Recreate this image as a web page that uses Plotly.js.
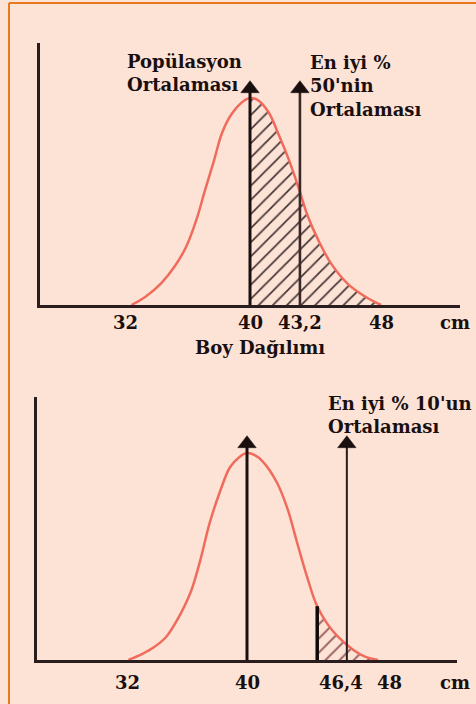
<!DOCTYPE html>
<html>
<head>
<meta charset="utf-8">
<script src="https://cdn.plot.ly/plotly-3.0.1.min.js"></script>
<style>
  html, body { margin: 0; padding: 0; background: #fde3d6; }
  #chart { width: 476px; height: 704px; }
</style>
</head>
<body>
<div id="chart"></div>
<script>
// Height distribution (Boy Dağılımı), relative frequency, peak = 1
const upperX = [32.4, 33.3, 34.3, 35.2, 35.9, 36.6, 37.1, 37.7, 38.2, 38.8, 39.5, 40.0, 40.5, 41.2, 41.8, 42.5, 43.1, 43.7, 44.4, 45.2, 46.3, 47.4, 48.4];
const upperY = [0, 0.04, 0.105, 0.19, 0.28, 0.42, 0.55, 0.70, 0.83, 0.92, 0.98, 1.00, 0.99, 0.93, 0.83, 0.70, 0.57, 0.43, 0.31, 0.20, 0.10, 0.04, 0];

const lowerX = [32.4, 33.3, 34.0, 34.8, 35.5, 36.4, 37.0, 37.6, 38.3, 38.9, 39.5, 40.0, 40.5, 41.0, 41.9, 42.6, 43.2, 43.9, 44.5, 45.5, 46.8, 47.6, 48.4];
const lowerY = [0, 0.03, 0.06, 0.11, 0.19, 0.33, 0.48, 0.66, 0.82, 0.93, 0.98, 1.00, 0.99, 0.96, 0.86, 0.73, 0.57, 0.39, 0.26, 0.14, 0.05, 0.015, 0];

// Means (cm)
const populationMean = 40;
const top50Mean = 43.2;
const top10Mean = 46.4;
const top10Cutoff = 44.5;

// Axis ticks
const upperTickVals = [32, 40, 43.2, 48];
const upperTickText = ['32', '40', '43,2', '48'];
const lowerTickVals = [32, 40, 46.4, 48];
const lowerTickText = ['32', '40', '46,4', '48'];

// Labels
const popLabel = 'Popülasyon<br>Ortalaması';
const top50Label = "En iyi %<br>50'nin<br>Ortalaması";
const top10Label = "En iyi % 10'un<br>Ortalaması";
const axisTitle = 'Boy Dağılımı';
const unitLabel = 'cm';

// ---- styling ----
const INK = '#1a0f0f';
const CURVE = '#f06b5c';
const FONT = 'DejaVu Serif';
const ARROW_TOP = 1.045;     // line end, just under the arrow head

function tail(xs, ys, from) {
  const px = [], py = [];
  xs.forEach((x, i) => { if (x >= from) { px.push(x); py.push(ys[i]); } });
  return { x: px, y: py };
}
function valueAt(xs, ys, at) {
  return ys[xs.indexOf(at)];
}

const upperHatch = tail(upperX, upperY, populationMean);
const lowerHatch = tail(lowerX, lowerY, top10Cutoff);

function arrow(x, xa, ya, width, color) {
  return {
    x: [x, x], y: [0, ARROW_TOP], xaxis: xa, yaxis: ya,
    mode: 'lines+markers', hoverinfo: 'skip', showlegend: false,
    line: { color: color, width: width },
    marker: { symbol: 'triangle-up', size: [0, 16], color: INK, opacity: 1, line: { width: 0.5, color: INK } }
  };
}

const curveLine = { color: CURVE, width: 2.5, shape: 'spline', smoothing: 1 };

const traces = [
  // upper panel
  {
    x: upperHatch.x, y: upperHatch.y, xaxis: 'x', yaxis: 'y',
    mode: 'lines', line: { width: 0, shape: 'spline', smoothing: 1 }, fill: 'tozeroy',
    fillcolor: 'rgba(0,0,0,0)',
    fillpattern: { shape: '/', fgcolor: '#4a3838', bgcolor: 'rgba(0,0,0,0)', size: 10, solidity: 0.18 },
    hoverinfo: 'skip', showlegend: false
  },
  {
    x: upperX, y: upperY, xaxis: 'x', yaxis: 'y', mode: 'lines',
    line: curveLine, hoverinfo: 'skip', showlegend: false
  },
  arrow(populationMean, 'x', 'y', 3, '#1a0f0f'),
  arrow(top50Mean, 'x', 'y', 2.6, '#3a2727'),

  // lower panel
  {
    x: lowerHatch.x, y: lowerHatch.y, xaxis: 'x2', yaxis: 'y2',
    mode: 'lines', line: { width: 0, shape: 'spline', smoothing: 1 }, fill: 'tozeroy',
    fillcolor: 'rgba(0,0,0,0)',
    fillpattern: { shape: '/', fgcolor: '#9a6464', bgcolor: 'rgba(0,0,0,0)', size: 10, solidity: 0.2 },
    hoverinfo: 'skip', showlegend: false
  },
  {
    x: lowerX, y: lowerY, xaxis: 'x2', yaxis: 'y2', mode: 'lines',
    line: curveLine, hoverinfo: 'skip', showlegend: false
  },
  {
    x: [top10Cutoff, top10Cutoff], y: [0, valueAt(lowerX, lowerY, top10Cutoff)],
    xaxis: 'x2', yaxis: 'y2', mode: 'lines',
    line: { color: '#110808', width: 3.5 }, hoverinfo: 'skip', showlegend: false
  },
  arrow(populationMean, 'x2', 'y2', 3, '#1a0f0f'),
  arrow(top10Mean, 'x2', 'y2', 2, '#2a1a1a')
];

const W = 476, H = 704;
const px = v => v / W;
const py = v => 1 - v / H;

const textFont = { family: FONT, size: 18, color: INK, weight: 'bold' };

// tick labels are set as annotations on the data axes so crowded ones can be nudged apart
function xAxis(domain, anchor) {
  return {
    domain: domain, range: [26.54, 53.46], anchor: anchor,
    showline: true, linecolor: '#2b1d1d', linewidth: 3,
    showgrid: false, zeroline: false, ticks: '', showticklabels: false,
    fixedrange: true
  };
}
function yAxis(domain, top, anchor) {
  return {
    domain: domain, range: [0, top], anchor: anchor,
    showline: true, linecolor: '#2b1d1d', linewidth: 3,
    showgrid: false, zeroline: false, showticklabels: false, ticks: '',
    fixedrange: true
  };
}

function tickLabels(vals, text, xref, yPix, shift) {
  return vals.map((v, i) => ({
    text: text[i], xref: xref, yref: 'paper', x: v, y: py(yPix),
    xanchor: 'center', yanchor: 'middle', xshift: shift[text[i]] || 0,
    showarrow: false, font: textFont
  }));
}

const upperShift = { '48': 7 };
const lowerShift = { '32': 5, '46,4': -6, '48': 18 };

const layout = {
  width: W, height: H,
  margin: { l: 0, r: 0, t: 0, b: 0 },
  paper_bgcolor: '#fde3d6', plot_bgcolor: 'rgba(0,0,0,0)',
  showlegend: false,
  xaxis: xAxis([px(40), px(460)], 'y'),
  yaxis: yAxis([py(305), py(43)], 262 / 207, 'x'),
  xaxis2: xAxis([px(37), px(457)], 'y2'),
  yaxis2: yAxis([py(660), py(397)], 263 / 207, 'x2'),
  shapes: [
    { type: 'line', xref: 'paper', yref: 'paper', x0: px(9), x1: 1.05, y0: py(3), y1: py(3), line: { color: '#e8791f', width: 2 } },
    { type: 'line', xref: 'paper', yref: 'paper', x0: px(9), x1: px(9), y0: -0.05, y1: py(3), line: { color: '#e8791f', width: 2 } }
  ],
  annotations: [
    { text: popLabel, xref: 'paper', yref: 'paper', x: px(125), y: py(49), xanchor: 'left', yanchor: 'top', align: 'left', showarrow: false, font: textFont },
    { text: top50Label, xref: 'paper', yref: 'paper', x: px(308), y: py(50), xanchor: 'left', yanchor: 'top', align: 'left', showarrow: false, font: textFont },
    { text: top10Label, xref: 'paper', yref: 'paper', x: px(326), y: py(391), xanchor: 'left', yanchor: 'top', align: 'left', showarrow: false, font: textFont },
    { text: axisTitle, xref: 'paper', yref: 'paper', x: px(260), y: py(347), xanchor: 'center', yanchor: 'middle', showarrow: false, font: textFont },
    { text: unitLabel, xref: 'paper', yref: 'paper', x: px(455), y: py(323), xanchor: 'center', yanchor: 'middle', showarrow: false, font: textFont },
    { text: unitLabel, xref: 'paper', yref: 'paper', x: px(455), y: py(682), xanchor: 'center', yanchor: 'middle', showarrow: false, font: textFont }
  ]
    .concat(tickLabels(upperTickVals, upperTickText, 'x', 323, upperShift))
    .concat(tickLabels(lowerTickVals, lowerTickText, 'x2', 682, lowerShift))
};

Plotly.newPlot('chart', traces, layout, { staticPlot: true, displayModeBar: false });
</script>
</body>
</html>
